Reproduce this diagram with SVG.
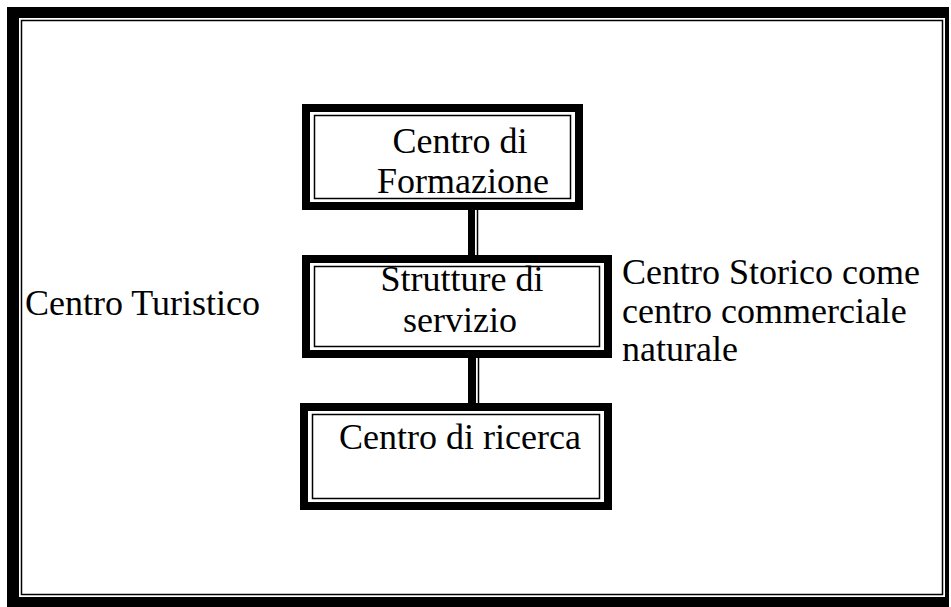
<svg xmlns="http://www.w3.org/2000/svg" width="951" height="607" viewBox="0 0 951 607">
  <style>
    .t { font-family: "Liberation Serif", "Times New Roman", serif; font-size: 36px; fill: #000; }
    .c { text-anchor: middle; }
    .band { fill: none; stroke: #000; stroke-width: 8; }
    .thin { fill: none; stroke: #000; stroke-width: 1.5; }
  </style>
  <rect width="951" height="607" fill="#fff"/>
  <g id="frame">
    <path d="M7,7 H949 V607 H7 Z M19,18 V597 H945 V18 Z" fill="#000" fill-rule="evenodd"/>
    <rect x="21.5" y="20.5" width="921" height="574" class="thin"/>
  </g>
  <g id="connectors">
    <rect x="468" y="210" width="7" height="46" fill="#000"/>
    <line x1="477.5" y1="210" x2="477.5" y2="256" stroke="#000" stroke-width="1.5"/>
    <rect x="468" y="357" width="8" height="47" fill="#000"/>
    <line x1="478.5" y1="357" x2="478.5" y2="404" stroke="#000" stroke-width="1.5"/>
  </g>
  <g id="box-formazione">
    <rect x="306" y="108" width="273" height="98" class="band"/>
    <rect x="314.5" y="115.5" width="256" height="83" class="thin"/>
    <text class="t c" x="460" y="153">Centro di</text>
    <text class="t c" x="463" y="193">Formazione</text>
  </g>
  <g id="box-servizio">
    <rect x="306" y="259" width="302" height="95" class="band"/>
    <rect x="314.5" y="266.5" width="285" height="80" class="thin"/>
    <text class="t c" x="462" y="291">Strutture di</text>
    <text class="t c" x="460" y="332">servizio</text>
  </g>
  <g id="box-ricerca">
    <rect x="304" y="407" width="304" height="99" class="band"/>
    <rect x="312.5" y="414.5" width="287" height="84" class="thin"/>
    <text class="t c" x="460" y="449">Centro di ricerca</text>
  </g>
  <g id="label-turistico">
    <text class="t" x="25" y="315">Centro Turistico</text>
  </g>
  <g id="label-storico">
    <text class="t" x="622" y="284">Centro Storico come</text>
    <text class="t" x="622" y="323">centro commerciale</text>
    <text class="t" x="622" y="361">naturale</text>
  </g>
</svg>
